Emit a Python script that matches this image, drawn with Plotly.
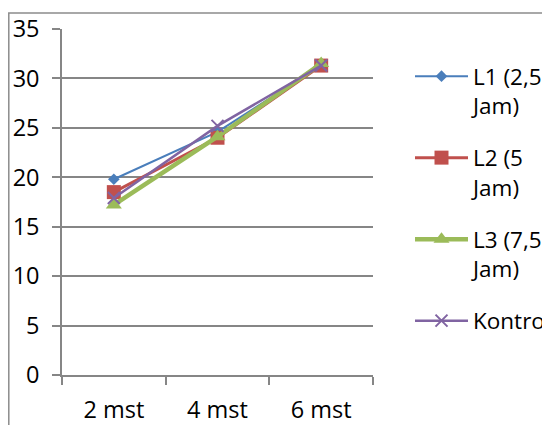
import plotly.graph_objects as go

categories = ["2 mst", "4 mst", "6 mst"]
series_names = ["L1 (2,5<br>Jam)", "L2 (5<br>Jam)", "L3 (7,5<br>Jam)", "Kontrol"]
l1 = [19.8, 24.6, 31.3]
l2 = [18.5, 24.0, 31.3]
l3 = [17.2, 24.1, 31.5]
kontrol = [17.9, 25.2, 31.3]
y_ticks = [0, 5, 10, 15, 20, 25, 30, 35]

FONT = "Open Sans"
FS = 23.5
LFS = 22.5
GRID = "#868686"

fig = go.Figure()
fig.add_trace(go.Scatter(x=categories, y=l1, name=series_names[0], mode="lines+markers",
                         line=dict(color="#4A7EBB", width=2),
                         marker=dict(symbol="diamond", size=9, color="#4A7EBB"),
                         legendgroup="a"))
fig.add_trace(go.Scatter(x=categories, y=l2, name=series_names[1], mode="lines+markers",
                         line=dict(color="#C0504D", width=3),
                         marker=dict(symbol="square", size=14, color="#C0504D"),
                         legendgroup="b"))
fig.add_trace(go.Scatter(x=categories, y=l3, name=series_names[2], mode="lines+markers",
                         line=dict(color="#9BBB59", width=4.5),
                         marker=dict(symbol="triangle-up", size=14, color="#9BBB59"),
                         legendgroup="c"))
fig.add_trace(go.Scatter(x=categories, y=kontrol, name=series_names[3], mode="lines+markers",
                         line=dict(color="#8064A2", width=2.5),
                         marker=dict(symbol="x-thin", size=12, color="#8064A2",
                                     line=dict(color="#8064A2", width=2)),
                         legendgroup="d"))

# page body has an 8px margin, so figure coords = screen coords - 8
W, H = 542, 417
L, R, T, B = 54, 177, 21, 50
pw, ph = W - L - R, H - T - B

fig.update_layout(
    width=W, height=H,
    margin=dict(l=L, r=R, t=T, b=B, pad=0, autoexpand=False),
    paper_bgcolor="white", plot_bgcolor="white",
    font=dict(family=FONT, size=FS, color="#000000"),
    showlegend=True,
    legend=dict(x=(402 - L) / pw, y=1 - (47 - T) / ph, xanchor="left", yanchor="top",
                traceorder="grouped", tracegroupgap=20, valign="top",
                itemwidth=53, font=dict(family=FONT, size=LFS),
                bgcolor="rgba(0,0,0,0)"),
    xaxis=dict(type="category", range=[-0.5, 2.5], showgrid=False,
               showline=True, linecolor=GRID, linewidth=1.5,
               ticks="outside", ticklen=8, tickcolor=GRID, tickwidth=1.5,
               tickson="boundaries", ticklabelstandoff=13,
               tickfont=dict(family=FONT, size=FS)),
    yaxis=dict(range=[0, 35], tickvals=y_ticks, showgrid=True, gridcolor=GRID,
               gridwidth=1.5, showline=True, linecolor=GRID, linewidth=1.5,
               ticks="outside", ticklen=8, tickcolor=GRID, tickwidth=1.5,
               zeroline=False, ticklabelstandoff=8,
               tickfont=dict(family=FONT, size=FS)),
)

# outer chart border (extends beyond the canvas at right/bottom)
fig.add_shape(type="rect", xref="paper", yref="paper",
              x0=(0.8 - L) / pw, x1=(W + 20 - L) / pw,
              y0=-(H + 20 - (H - B)) / ph, y1=1 + (T - 5) / ph,
              line=dict(color="#8C8C8C", width=1.5), fillcolor="rgba(0,0,0,0)",
              layer="below")

fig.write_html("out.html")
